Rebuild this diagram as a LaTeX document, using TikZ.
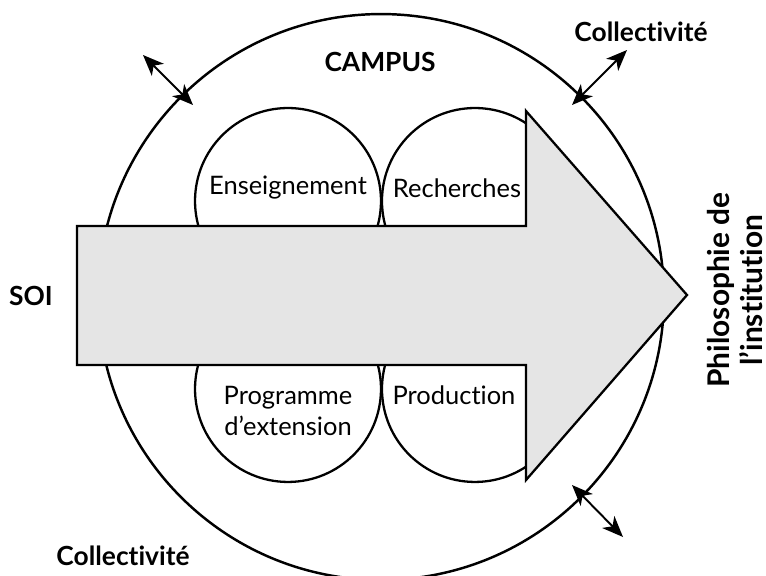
\documentclass[tikz,border=0pt]{standalone}
\usepackage{fontspec}
\setmainfont{Lato}[Ligatures={NoCommon,NoRare}]
\usepackage{tikz}
\usetikzlibrary{arrows.meta}
\usetikzlibrary{positioning}
\tikzset{>={Stealth[length=0.42cm,width=0.34cm,inset=0.12cm]}, font=\fontsize{14.5}{17.5}\selectfont}
\tikzstyle{ring} = [draw, circle, line width=1.4pt, inner sep=0pt, outer sep=0pt]
\tikzstyle{part} = [draw, circle, line width=1.3pt, minimum size=3.72cm, inner sep=0pt, outer sep=0pt]
\tikzstyle{txt} = [align=center, inner sep=0pt]
\tikzstyle{bold} = [font=\fontsize{15}{16}\selectfont\bfseries, inner sep=0pt]
\tikzstyle{flow} = [draw, line width=1.3pt, fill=black!10, line join=miter]
\tikzstyle{link} = [<->, line width=1.1pt]

\begin{document}
\begin{tikzpicture}[x=0.02cm, y=-0.02cm]
    \useasboundingbox (0,0) rectangle (766,575);
    \node [ring, minimum size=11.32cm] (campus) at (381,297) {};
    \node [part] (ens) at (288,201) {};
    \node [part, right=0.02cm of ens] (rech) {};
    \node [part, below=0.04cm of ens] (prog) {};
    \node [part, right=0.02cm of prog] (prod) {};

    \draw [flow] (77,226) -- (526,226) -- (526,111) -- (687,295) -- (526,480) -- (526,365) -- (77,365) -- cycle;

    \node [txt] (enstxt) at (288,188) {Enseignement};
    \node [txt] (rechtxt) at (457,188) {Recherches};
    \node [txt] (progtxt) at (288,411) {Programme\\d’extension};
    \node [txt] (prodtxt) at (454,395) {Production};

    \node [bold] (campustxt) at (380,62) {CAMPUS};
    \node [bold] (soi) at (31,296) {SOI};
    \node [bold] (colne) at (641,32) {Collectivité};
    \node [bold] (colsw) at (123,556) {Collectivité};
    \node [bold, font=\fontsize{17}{17}\selectfont\bfseries, rotate=90, align=center] (philo) at (735,290) {Philosophie de\\[1.5pt]l’institution};

    \coordinate (nwout) at (143,55);
    \coordinate (nwin) at (193,105);
    \coordinate (neout) at (627,50);
    \coordinate (nein) at (572,105);
    \coordinate (seout) at (623,537);
    \coordinate (sein) at (572,485);
    \draw [link] (nwout) -- (nwin);
    \draw [link] (neout) -- (nein);
    \draw [link] (seout) -- (sein);
\end{tikzpicture}
\end{document}
